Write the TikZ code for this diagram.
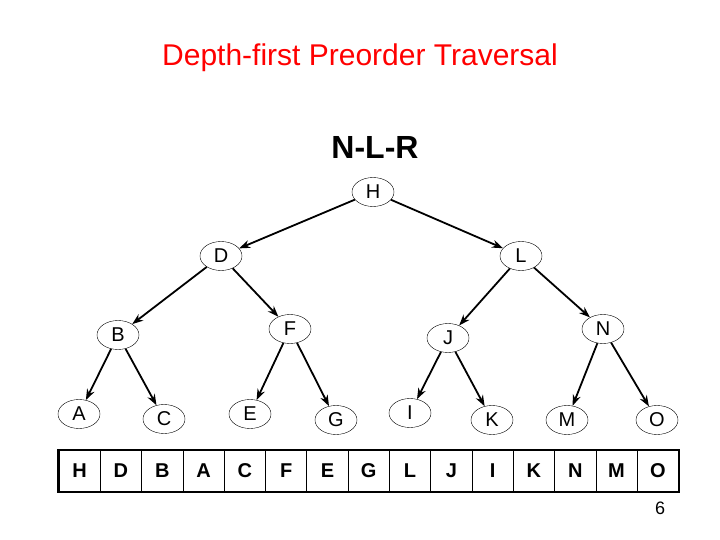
\documentclass[tikz,border=0pt]{standalone}
\usepackage{fontspec}
\setmainfont{Liberation Sans}
\usetikzlibrary{shapes.geometric,arrows.meta}
\tikzset{
  vert/.style={draw, ellipse, fill=white, minimum width=42pt, minimum height=29pt, inner sep=0pt, font=\fontsize{20}{20}\selectfont},
  link/.style={line width=1.8pt, -{Stealth[length=11pt,width=8pt]}},
  cell/.style={draw, line width=0.8pt, minimum width=41.3pt, minimum height=41pt, inner sep=0pt, font=\bfseries\fontsize{20}{20}\selectfont}
}
\begin{document}
\begin{tikzpicture}[x=1pt,y=-1pt]
        \useasboundingbox (0,0) rectangle (720,540);
        \node[red, font=\fontsize{30}{30}\selectfont] (title) at (360,58) {Depth-first Preorder Traversal};
        \node[font=\bfseries\fontsize{32}{32}\selectfont] (order) at (375,147) {N-L-R};

        \node[vert] (H) at (373,192) {H};
        \node[vert] (D) at (221,256) {D};
        \node[vert] (L) at (521,256) {L};
        \node[vert] (B) at (118,335) {B};
        \node[vert] (F) at (290,329) {F};
        \node[vert] (J) at (448,338) {J};
        \node[vert] (N) at (603,329) {N};
        \node[vert] (A) at (79,414) {A};
        \node[vert] (C) at (164,419) {C};
        \node[vert] (E) at (250,414) {E};
        \node[vert] (G) at (336,420) {G};
        \node[vert] (I) at (410,413) {I};
        \node[vert] (K) at (492,420) {K};
        \node[vert] (M) at (567,420) {M};
        \node[vert] (O) at (657,420) {O};

        \draw[link] (H) -- (D);
        \draw[link] (H) -- (L);
        \draw[link] (D) -- (B);
        \draw[link] (D) -- (F);
        \draw[link] (L) -- (J);
        \draw[link] (L) -- (N);
        \draw[link] (B) -- (A);
        \draw[link] (B) -- (C);
        \draw[link] (F) -- (E);
        \draw[link] (F) -- (G);
        \draw[link] (J) -- (I);
        \draw[link] (J) -- (K);
        \draw[link] (N) -- (M);
        \draw[link] (N) -- (O);

        \foreach \t [count=\i from 0] in {H,D,B,A,C,F,E,G,L,J,I,K,N,M,O}
            \node[cell] (c\i) at (59+20.65+41.3*\i,471) {\t};
        \draw[line width=2.5pt] (c0.north west) rectangle (c14.south east);

        \node[font=\fontsize{18}{18}\selectfont] (page) at (660,508) {6};
\end{tikzpicture}
\end{document}
